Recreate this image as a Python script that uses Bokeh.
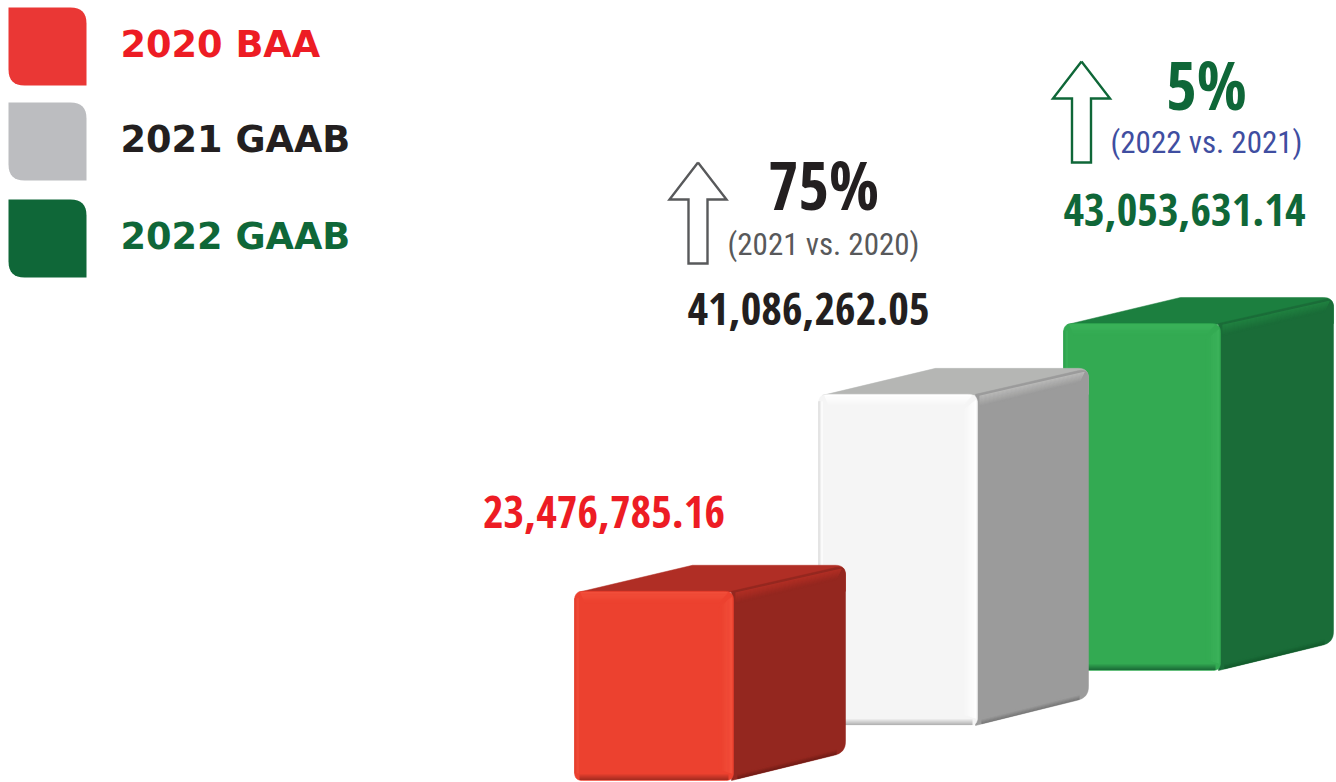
from bokeh.plotting import figure
from bokeh.embed import file_html
from bokeh.resources import INLINE
from bokeh.core.properties import value
from bokeh.models import Range1d
import math

# ---- data ----
years = ["2020 BAA", "2021 GAAB", "2022 GAAB"]
amounts = [23476785.16, 41086262.05, 43053631.14]
amount_labels = ["23,476,785.16", "41,086,262.05", "43,053,631.14"]
pct_labels = ["75%", "5%"]
cmp_labels = ["(2021 vs. 2020)", "(2022 vs. 2021)"]

# ---- styles ----
LEG_FILL = ["#EA3735", "#BCBDC0", "#0F6738"]
LEG_TEXT = ["#ED1C24", "#231F20", "#0F6738"]
AMT_TEXT = ["#ED1C24", "#231F20", "#0F6738"]
FRONT = ["#EC412F", "#F5F5F5", "#33AA52"]
FRONT_HI = ["#F24E3A", "#FFFFFF", "#3BB25A"]
FRONT_EDGE = ["#E23C2B", "#D8D8D8", "#2C9E4B"]
FRONT_LO = ["#A82C20", "#B4B4B4", "#1B6E38"]
SIDE = ["#94271F", "#9B9B9B", "#1A6C38"]
SIDE_HI = ["#B02E24", "#B8B8B7", "#208040"]
SIDE_LO = ["#6F1C16", "#777777", "#135A2C"]
TOP = ["#B02E25", "#B5B6B4", "#1C7F3F"]
COND = "Open Sans Condensed"
BASELINE_SHIFT = 0.37   # the svg text sits this many font sizes below its anchor

# ---- layout (page pixels) ----
PX_PER_UNIT = 8.06e-6
base_y = [780, 725, 670]
left_x = [574, 818, 1063]
front_w = [159, 159, 157]
side_w = [112, 111, 113]
depth_x = [118, 117, 117]
rise = 26

p = figure(width=1336, height=782, output_backend="svg", toolbar_location=None,
           x_range=Range1d(0, 1336), y_range=Range1d(782, 0), min_border=0,
           outline_line_color=None, background_fill_color="white", border_fill_color="white")
p.axis.visible = False
p.grid.visible = False


def mix(a, b, t):
    ca = [int(a[i:i + 2], 16) for i in (1, 3, 5)]
    cb = [int(b[i:i + 2], 16) for i in (1, 3, 5)]
    return "#%02X%02X%02X" % tuple(round(x + (y - x) * t) for x, y in zip(ca, cb))


def rounded(pts, radii):
    xs, ys = [], []
    n = len(pts)
    for i in range(n):
        x, y = pts[i]
        r = radii[i]
        if r == 0:
            xs.append(x); ys.append(y)
            continue
        px, py = pts[i - 1]
        nx, ny = pts[(i + 1) % n]
        d1 = math.hypot(px - x, py - y)
        d2 = math.hypot(nx - x, ny - y)
        a = (x + (px - x) * r / d1, y + (py - y) * r / d1)
        b = (x + (nx - x) * r / d2, y + (ny - y) * r / d2)
        for k in range(9):
            t = k / 8
            xs.append((1 - t) ** 2 * a[0] + 2 * t * (1 - t) * x + t ** 2 * b[0])
            ys.append((1 - t) ** 2 * a[1] + 2 * t * (1 - t) * y + t ** 2 * b[1])
    return xs, ys


def label(x, y, txt, col, font, size, style="bold", align="center"):
    p.text([x], [y - BASELINE_SHIFT * size], text=[txt], text_color=col, text_font=value(font),
           text_font_style=style, text_font_size=f"{size}px", text_baseline="alphabetic", text_align=align)


# ---- bars, far to near ----
for i in (2, 1, 0):
    top = base_y[i] - amounts[i] * PX_PER_UNIT
    bot = base_y[i]
    L = left_x[i]
    R = L + front_w[i]
    S = R + side_w[i]
    BL = L + depth_x[i]
    # top face
    xs, ys = rounded([(L + 4, top + 1), (BL, top - rise), (S, top - rise), (S, top), (R, top + 1)], [0, 0, 10, 0, 0])
    p.patch(xs, ys, fill_color=TOP[i], line_color=TOP[i], line_width=0.5)
    # side face
    xs, ys = rounded([(R - 2, top), (S, top - rise), (S, bot - rise - 2), (R - 2, bot)], [0, 10, 11, 0])
    p.patch(xs, ys, fill_color=SIDE[i], line_color=SIDE[i], line_width=0.5)
    for k in range(11):
        c = mix(SIDE_HI[i], SIDE[i], k / 10)
        off = 2 + k * 1.0
        p.line([R + 2, S - 4 - k * 0.5], [top + off, top - rise + off + 2], line_color=c, line_width=1.4)
    for k in range(6):
        c = mix(SIDE_LO[i], SIDE[i], k / 5)
        off = 1.0 + k * 0.9
        p.line([R + 4, S - 9], [bot - off - 1, bot - rise - off + 0.5], line_color=c, line_width=1.2)
    # front face
    xs, ys = rounded([(L, top), (R, top), (R, bot), (L, bot)], [9, 9, 8, 8])
    p.patch(xs, ys, fill_color=FRONT[i], line_color=FRONT[i], line_width=0.5)
    # bottom edge
    for k in range(7):
        c = mix(FRONT_LO[i], FRONT[i], k / 6)
        p.line([L + 5, R - 5], [bot - 1 - k] * 2, line_color=c, line_width=1.2)
    # left edge
    for k in range(4):
        c = mix(FRONT_EDGE[i], FRONT_HI[i], k / 3)
        p.line([L + 0.5 + k] * 2, [top + 7, bot - 7], line_color=c, line_width=1.2)
    # top highlight
    for k in range(9):
        c = mix(FRONT_HI[i], FRONT[i], k / 8)
        p.line([L + 6 + k * 0.5, R - 6 - k], [top + 1.5 + k * 1.2] * 2, line_color=c, line_width=1.5)
    # right highlight
    for k in range(11):
        c = mix(FRONT_HI[i], FRONT[i], k / 10)
        p.line([R - 2 - k * 1.2] * 2, [top + 6 + k, bot - 7 - k * 0.4], line_color=c, line_width=1.5)

# ---- arrows ----
for (tip_x, tip_y, head_y, half_w, shaft_w, bot_y, col) in [
    (697.5, 162, 199, 28.5, 9.5, 263, "#58595B"),
    (1081, 61, 98, 28.5, 9.5, 162, "#0F6738"),
]:
    ax = [tip_x, tip_x + half_w, tip_x + shaft_w, tip_x + shaft_w, tip_x - shaft_w, tip_x - shaft_w, tip_x - half_w, tip_x]
    ay = [tip_y, head_y, head_y, bot_y, bot_y, head_y, head_y, tip_y]
    p.line(ax, ay, line_color=col, line_width=2.4, line_join="miter")

# ---- legend ----
leg_top = [7, 102, 199]
for i, name in enumerate(years):
    t = leg_top[i]
    xs, ys = rounded([(8, t), (86, t), (86, t + 78), (8, t + 78)], [0, 16, 0, 16])
    p.patch(xs, ys, fill_color=LEG_FILL[i], line_color=None)
    label(120, t + 51, name, LEG_TEXT[i], "DejaVu Sans", 36.7, align="left")

# ---- amounts ----
amt_x = [603.5, 808, 1184]
amt_y = [528, 325, 226]
for i in range(3):
    label(amt_x[i], amt_y[i], amount_labels[i], AMT_TEXT[i], COND, 44.5)

# ---- percentages ----
pct_x = [823, 1206]
pct_y = [208, 108]
pct_col = ["#231F20", "#0F6738"]
cmp_y = [255, 153]
cmp_col = ["#58595B", "#3F4EA1"]
for i in range(2):
    label(pct_x[i], pct_y[i], pct_labels[i], pct_col[i], COND, 66)
    label(pct_x[i], cmp_y[i], cmp_labels[i], cmp_col[i], "Roboto Condensed", 31, style="normal")

open("out.html", "w").write(file_html(p, INLINE))
